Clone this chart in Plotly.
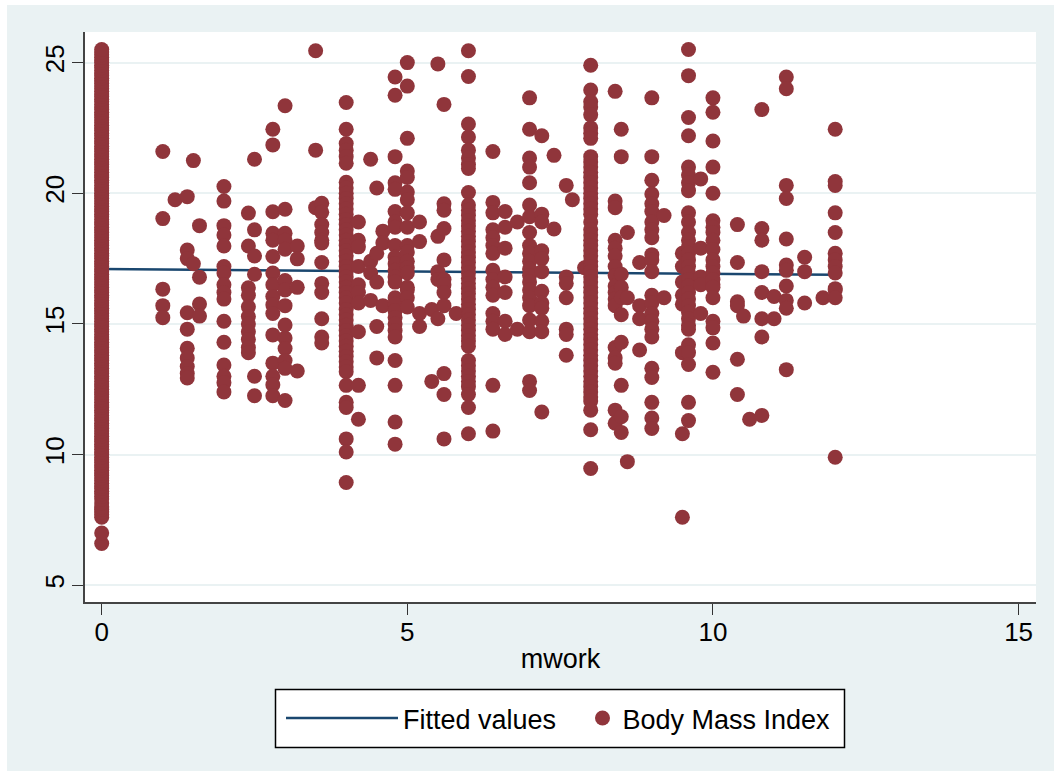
import plotly.graph_objects as go

fit_x = [0, 12]
fit_y = [17.1, 16.88]

bmi_0_0 = [6.6, 7.0, 7.6, 7.7, 7.8, 7.9, 8.0, 8.15, 8.3, 8.4, 8.5, 8.6, 8.7, 8.8, 8.9, 9.0, 9.1, 9.2, 9.3, 9.4, 9.5,
           9.6, 9.7, 9.8, 9.9, 10.0, 10.1, 10.2, 10.3, 10.4, 10.5, 10.6, 10.7, 10.8, 10.9, 11.0, 11.1, 11.2, 11.3, 11.4,
           11.5, 11.6, 11.7, 11.8, 11.9, 12.0, 12.1, 12.2, 12.3, 12.4, 12.5, 12.6, 12.7, 12.8, 12.9, 13.0, 13.1, 13.2,
           13.3, 13.4, 13.5, 13.6, 13.7, 13.8, 13.9, 14.0, 14.1, 14.2, 14.3, 14.4, 14.5, 14.6, 14.7, 14.8, 14.9, 15.0,
           15.1, 15.2, 15.3, 15.4, 15.5, 15.6, 15.7, 15.8, 15.9, 16.0, 16.1, 16.2, 16.3, 16.4, 16.5, 16.6, 16.7, 16.8,
           16.9, 17.0, 17.1, 17.2, 17.3, 17.4, 17.5, 17.6, 17.7, 17.8, 17.9, 18.0, 18.1, 18.2, 18.3, 18.4, 18.5, 18.6,
           18.7, 18.8, 18.9, 19.0, 19.1, 19.2, 19.3, 19.4, 19.5, 19.6, 19.7, 19.8, 19.9, 20.0, 20.1, 20.2, 20.3, 20.4,
           20.5, 20.6, 20.7, 20.8, 20.9, 21.0, 21.1, 21.2, 21.3, 21.4, 21.5, 21.6, 21.7, 21.8, 21.9, 22.0, 22.1, 22.2,
           22.3, 22.4, 22.5, 22.6, 22.7, 22.8, 22.9, 23.0, 23.1, 23.2, 23.3, 23.4, 23.5, 23.6, 23.7, 23.8, 23.9, 24.0,
           24.1, 24.2, 24.3, 24.4, 24.5, 24.6, 24.7, 24.8, 24.9, 25.0, 25.1, 25.2, 25.3, 25.4, 25.5]
bmi_1_0 = [21.6, 19.03, 16.33, 15.7, 15.24]
bmi_1_2 = [19.75]
bmi_1_4 = [19.87, 17.83, 17.5, 15.43, 14.8, 14.07, 13.7, 13.37, 13.1, 12.93]
bmi_1_5 = [21.25, 17.3]
bmi_1_6 = [18.76, 16.79, 15.76, 15.3]
bmi_2_0 = [20.26, 19.7, 18.76, 18.4, 17.98, 17.2, 16.95, 16.5, 16.2, 15.95, 15.1, 14.3, 13.43, 13.0, 12.75, 12.4]
bmi_2_4 = [19.24, 17.98, 16.38, 16.1, 15.66, 15.28, 15.0, 14.7, 14.4, 14.1, 13.9]
bmi_2_5 = [21.3, 18.6, 17.6, 16.9, 13.0, 12.25]
bmi_2_8 = [22.45, 21.85, 19.29, 18.47, 18.2, 17.58, 16.95, 16.5, 16.05, 15.73, 15.4, 14.58, 13.5, 13.0, 12.67, 12.25]
bmi_3_0 = [23.35, 19.39, 18.47, 18.2, 17.86, 16.66, 16.3, 15.7, 14.96, 14.46, 14.06, 13.6, 13.3, 12.07]
bmi_3_2 = [17.98, 17.49, 16.4, 13.2]
bmi_3_5 = [25.45, 21.65, 19.45]
bmi_3_6 = [19.62, 19.27, 18.8, 18.5, 18.2, 18.1, 17.35, 16.55, 16.2, 15.2, 14.5, 14.27]
bmi_4_0 = [23.47, 22.45, 21.9, 21.65, 21.4, 21.15, 20.42, 20.2, 20.0, 19.8, 19.6, 19.4, 19.2, 19.0, 18.8, 18.6, 18.4,
           18.2, 18.0, 17.8, 17.6, 17.4, 17.2, 17.0, 16.8, 16.6, 16.4, 16.2, 16.0, 15.8, 15.55, 15.35, 15.15, 14.95,
           14.75, 14.55, 14.35, 14.15, 13.95, 13.75, 13.55, 13.35, 13.17, 12.65, 12.0, 11.8, 10.6, 10.1, 8.93]
bmi_4_2 = [18.9, 18.2, 17.95, 17.2, 16.5, 16.2, 15.8, 14.7, 12.65, 11.35]
bmi_4_4 = [21.3, 17.4, 16.95, 15.9]
bmi_4_5 = [20.2, 17.7, 16.6, 14.9, 13.7]
bmi_4_6 = [18.55, 18.1, 15.7]
bmi_4_8 = [24.45, 23.75, 21.4, 20.4, 20.15, 19.3, 18.9, 18.7, 18.0, 17.55, 17.3, 17.05, 16.8, 16.6, 16.0, 15.75, 15.5,
           15.25, 15.0, 14.75, 14.5, 13.6, 12.65, 11.25, 10.4]
bmi_5_0 = [25.0, 24.1, 22.1, 20.85, 20.6, 20.05, 19.75, 19.25, 18.7, 18.0, 17.75, 17.4, 17.15, 16.95, 16.4, 16.3, 16.0,
           15.65]
bmi_5_2 = [18.9, 18.15, 15.4, 14.9]
bmi_5_4 = [15.55, 12.8]
bmi_5_5 = [24.95, 18.35, 17.0, 16.7, 15.2]
bmi_5_6 = [23.4, 19.6, 19.35, 18.65, 17.45, 16.7, 16.5, 16.2, 15.7, 13.1, 12.3, 10.6]
bmi_5_8 = [15.4]
bmi_6_0 = [25.45, 24.47, 22.65, 22.15, 21.65, 21.35, 21.1, 20.95, 20.03, 19.55, 19.35, 19.15, 18.95, 18.75, 18.55,
           18.35, 18.15, 17.95, 17.75, 17.55, 17.35, 17.15, 16.95, 16.75, 16.55, 16.35, 16.15, 15.95, 15.75, 15.55,
           15.35, 15.15, 14.95, 14.75, 14.55, 14.35, 14.15, 13.6, 13.4, 13.2, 13.0, 12.8, 12.6, 12.3, 11.8, 10.8]
bmi_6_4 = [21.6, 19.65, 19.25, 18.6, 18.3, 18.0, 17.7, 17.05, 16.7, 16.4, 16.1, 15.4, 15.1, 14.8, 12.65, 10.9]
bmi_6_6 = [19.3, 18.7, 17.9, 16.8, 16.2, 15.1, 14.6]
bmi_6_8 = [18.9, 14.8]
bmi_7_0 = [23.65, 22.45, 21.35, 21.0, 20.4, 19.55, 19.1, 18.5, 18.0, 17.7, 17.4, 17.1, 16.85, 16.6, 16.3, 16.0, 15.7,
           15.15, 14.7, 12.8, 12.45]
bmi_7_2 = [22.2, 19.2, 18.9, 17.8, 17.5, 17.0, 16.25, 15.8, 15.6, 15.1, 14.7, 11.63]
bmi_7_4 = [21.45, 18.63]
bmi_7_6 = [20.3, 16.8, 16.55, 16.0, 14.8, 14.6, 13.8]
bmi_7_7 = [19.75]
bmi_7_9 = [17.15]
bmi_8_0 = [24.9, 23.95, 23.5, 23.3, 23.0, 22.5, 22.3, 22.1, 21.4, 21.2, 21.0, 20.8, 20.6, 20.4, 20.2, 20.0, 19.8, 19.6,
           19.4, 19.2, 18.9, 18.6, 18.4, 18.2, 18.0, 17.8, 17.6, 17.4, 17.2, 17.0, 16.8, 16.6, 16.4, 16.2, 16.0, 15.8,
           15.6, 15.4, 15.2, 15.0, 14.8, 14.6, 14.4, 14.2, 14.0, 13.8, 13.6, 13.4, 13.2, 13.0, 12.8, 12.6, 12.4, 12.2,
           12.05, 11.7, 10.95, 9.47]
bmi_8_4 = [23.9, 19.7, 19.45, 18.2, 17.9, 17.6, 17.2, 16.85, 16.45, 16.2, 15.95, 15.7, 14.1, 13.7, 13.5, 11.7, 11.2]
bmi_8_5 = [22.45, 21.4, 16.9, 16.4, 16.0, 15.35, 14.3, 12.65, 11.45, 10.85]
bmi_8_6 = [18.5, 16.0, 9.73]
bmi_8_8 = [17.35, 15.7, 15.2, 14.0]
bmi_9_0 = [23.65, 21.4, 20.5, 19.97, 19.6, 19.3, 18.9, 18.6, 18.3, 17.65, 17.45, 17.0, 16.1, 15.8, 15.4, 15.1, 14.8,
           14.5, 13.3, 12.95, 12.0, 11.4, 11.0]
bmi_9_2 = [19.15, 16.0]
bmi_9_5 = [17.7, 17.2, 16.6, 16.1, 15.75, 13.9, 10.8, 7.6]
bmi_9_6 = [25.5, 24.5, 22.9, 22.2, 21.0, 20.7, 20.4, 20.1, 19.25, 18.9, 18.5, 18.2, 17.95, 17.7, 17.45, 17.2, 16.95,
           16.7, 16.45, 16.2, 15.95, 15.7, 15.45, 15.2, 14.95, 14.8, 14.2, 13.9, 13.45, 12.0, 11.3]
bmi_9_8 = [20.55, 17.9, 16.8, 16.5, 15.4]
bmi_10_0 = [23.65, 23.1, 22.0, 21.0, 20.0, 18.95, 18.7, 18.5, 18.2, 17.85, 17.45, 17.2, 16.95, 16.5, 16.7, 16.4, 16.0,
            15.1, 14.85, 14.27, 13.15]
bmi_10_4 = [18.8, 17.35, 15.85, 15.7, 13.65, 12.3]
bmi_10_5 = [15.3]
bmi_10_6 = [11.35]
bmi_10_8 = [23.2, 18.65, 18.2, 17.0, 16.2, 15.2, 14.5, 11.5]
bmi_11_0 = [16.05, 15.2]
bmi_11_2 = [24.45, 24.0, 20.3, 19.8, 18.25, 17.25, 17.05, 16.45, 15.9, 15.6, 13.25]
bmi_11_5 = [17.55, 17.0, 15.8]
bmi_11_8 = [16.0]
bmi_12_0 = [22.45, 20.45, 20.3, 19.25, 18.5, 17.7, 17.45, 17.2, 16.95, 16.35, 16.3, 16.0, 9.9]

columns = [
    (0.0, bmi_0_0), (1.0, bmi_1_0), (1.2, bmi_1_2), (1.4, bmi_1_4), (1.5, bmi_1_5), (1.6, bmi_1_6), (2.0, bmi_2_0),
    (2.4, bmi_2_4), (2.5, bmi_2_5), (2.8, bmi_2_8), (3.0, bmi_3_0), (3.2, bmi_3_2), (3.5, bmi_3_5), (3.6, bmi_3_6),
    (4.0, bmi_4_0), (4.2, bmi_4_2), (4.4, bmi_4_4), (4.5, bmi_4_5), (4.6, bmi_4_6), (4.8, bmi_4_8), (5.0, bmi_5_0),
    (5.2, bmi_5_2), (5.4, bmi_5_4), (5.5, bmi_5_5), (5.6, bmi_5_6), (5.8, bmi_5_8), (6.0, bmi_6_0), (6.4, bmi_6_4),
    (6.6, bmi_6_6), (6.8, bmi_6_8), (7.0, bmi_7_0), (7.2, bmi_7_2), (7.4, bmi_7_4), (7.6, bmi_7_6), (7.7, bmi_7_7),
    (7.9, bmi_7_9), (8.0, bmi_8_0), (8.4, bmi_8_4), (8.5, bmi_8_5), (8.6, bmi_8_6), (8.8, bmi_8_8), (9.0, bmi_9_0),
    (9.2, bmi_9_2), (9.5, bmi_9_5), (9.6, bmi_9_6), (9.8, bmi_9_8), (10.0, bmi_10_0), (10.4, bmi_10_4),
    (10.5, bmi_10_5), (10.6, bmi_10_6), (10.8, bmi_10_8), (11.0, bmi_11_0), (11.2, bmi_11_2), (11.5, bmi_11_5),
    (11.8, bmi_11_8), (12.0, bmi_12_0),
]
mwork = [x for x, vals in columns for _ in vals]
bmi = [v for _, vals in columns for v in vals]

x_ticks = [0, 5, 10, 15]
y_ticks = [5, 10, 15, 20, 25]

W, H = 1054, 771
L, R, T, B = 85, 1036, 32, 602
BG = "#eaf2f3"
FONT = "Liberation Sans, Arial, sans-serif"


def px(v):
    return (v - L) / (R - L)


def py(v):
    return (B - v) / (B - T)


fig = go.Figure()
fig.add_trace(go.Scatter(x=fit_x, y=fit_y, mode="lines", name="Fitted values",
                         line=dict(color="#1a476f", width=2.5), legend="legend"))
fig.add_trace(go.Scatter(x=mwork, y=bmi, mode="markers", name="Body Mass Index",
                         marker=dict(color="#90353b", size=15, line=dict(width=0)), legend="legend2"))

shapes = [
    dict(type="rect", xref="paper", yref="paper", x0=px(0), x1=px(7), y0=py(H), y1=py(0),
         fillcolor="white", line_width=0, layer="above"),
    dict(type="rect", xref="paper", yref="paper", x0=px(0), x1=px(W), y0=py(5), y1=py(0),
         fillcolor="white", line_width=0, layer="above"),
    dict(type="rect", xref="paper", yref="paper", x0=px(275.5), x1=px(844.5), y0=py(747.5), y1=py(689.5),
         fillcolor="white", line=dict(color="black", width=1.5), layer="above"),
]

fig.update_layout(
    width=W, height=H, margin=dict(l=L, r=W - R, t=T, b=H - B, autoexpand=False),
    paper_bgcolor=BG, plot_bgcolor="white", font=dict(family=FONT, size=26, color="black"),
    shapes=shapes, showlegend=True,
    legend=dict(x=px(281), y=py(694), xanchor="left", yanchor="top", orientation="h", itemwidth=112,
                bgcolor="rgba(0,0,0,0)", borderwidth=0, font=dict(size=27), itemclick=False),
    legend2=dict(x=px(582.5), y=py(694), xanchor="left", yanchor="top", orientation="h", itemwidth=30,
                 bgcolor="rgba(0,0,0,0)", borderwidth=0, font=dict(size=27), itemclick=False),
    xaxis=dict(range=[-0.273, 15.285], tickvals=x_ticks, ticks="outside", ticklen=11, tickwidth=1.3, tickcolor="#333",
               showline=True, linecolor="#444", linewidth=1.5, showgrid=False, zeroline=False,
               title=dict(text="mwork", font=dict(size=27), standoff=3), tickfont=dict(size=26), ticklabelstandoff=-5),
    yaxis=dict(range=[4.36, 26.17], tickvals=y_ticks, ticks="outside", ticklen=11, tickwidth=1.3, tickcolor="#333",
               showline=True, linecolor="#444", linewidth=1.5, showgrid=True, gridcolor=BG, gridwidth=2,
               zeroline=False, tickangle=-90, tickfont=dict(size=26), ticklabelstandoff=-2),
)

fig.write_html("out.html", config=dict(displayModeBar=False),
               post_script="document.body.style.margin='0';document.body.style.overflow='hidden';")
